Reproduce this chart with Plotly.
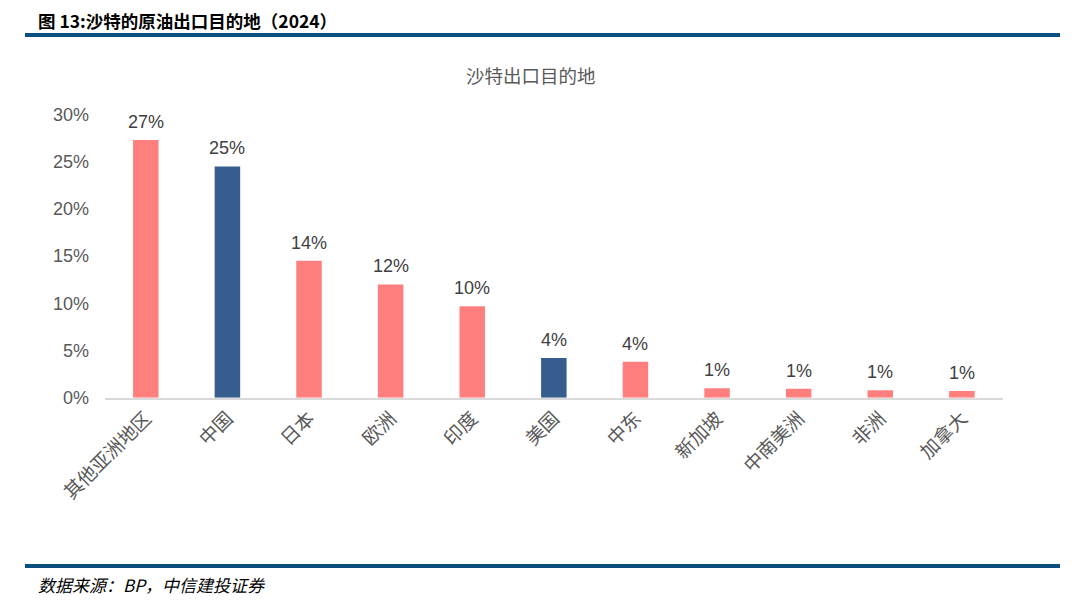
import plotly.graph_objects as go

categories = ["其他亚洲地区", "中国", "日本", "欧洲", "印度", "美国", "中东", "新加坡", "中南美洲", "非洲", "加拿大"]
values = [27.3, 24.5, 14.5, 12.0, 9.7, 4.2, 3.8, 1.0, 0.95, 0.78, 0.72]
labels = ["27%", "25%", "14%", "12%", "10%", "4%", "4%", "1%", "1%", "1%", "1%"]
highlight = ["中国", "美国"]
y_ticks = [0, 5, 10, 15, 20, 25, 30]
y_ticktext = ["0%", "5%", "10%", "15%", "20%", "25%", "30%"]

PINK = "#FF7F7F"
BLUE = "#355E8F"
colors = [BLUE if c in highlight else PINK for c in categories]

W, H = 1078, 615
OFF = 8  # page body margin offset


def px(x):
    return (x - OFF) / W


def py(y):
    return 1 - (y - OFF) / H


x0, x1 = 105, 1002.7
y_top, y_bot = 114.5, 397.7

fig = go.Figure()
fig.add_trace(go.Bar(
    x=categories, y=values, marker_color=colors, marker_line_width=0,
    hoverinfo="x+y",
))

# value labels above bars
for c, v, t in zip(categories, values, labels):
    fig.add_annotation(x=c, y=v, xref="x", yref="y", text=t, showarrow=False,
                       yanchor="bottom", xanchor="center", yshift=7, borderpad=0,
                       font=dict(family="Liberation Sans, Arial, sans-serif", size=18, color="#404040"))

fig.update_layout(
    width=W, height=H,
    margin=dict(l=0, r=0, t=0, b=0, pad=0, autoexpand=False),
    paper_bgcolor="white", plot_bgcolor="white",
    bargap=0.6875, showlegend=False,
    xaxis=dict(
        domain=[px(x0), px(x1)], showgrid=False, showline=True, automargin=False,
        linecolor="#D9D9D9", linewidth=2, ticks="", tickangle=-45,
        tickfont=dict(family="Noto Sans CJK SC, sans-serif", size=19, color="#595959"),
    ),
    yaxis=dict(
        domain=[py(y_bot), py(y_top)], range=[0, 30], showgrid=False, automargin=False,
        zeroline=False, showline=False, tickvals=y_ticks, ticktext=y_ticktext,
        ticks="", ticklabelstandoff=15,
        tickfont=dict(family="Liberation Sans, Arial, sans-serif", size=18, color="#595959"),
    ),
    font=dict(family="Noto Sans CJK SC, sans-serif"),
)

# header / footer rule lines
for yy in (35, 566):
    fig.add_shape(type="line", xref="paper", yref="paper", x0=px(25), x1=px(1060),
                  y0=py(yy), y1=py(yy), line=dict(color="#0B4F7F", width=4))

fig.add_annotation(xref="paper", yref="paper", x=px(37), y=py(20), xanchor="left", yanchor="middle",
                   text="<b>图 13:沙特的原油出口目的地（2024）</b>", showarrow=False, borderpad=0,
                   font=dict(family="Noto Sans CJK SC, sans-serif", size=17.5, color="#000000"))
fig.add_annotation(xref="paper", yref="paper", x=px(531), y=py(75), xanchor="center", yanchor="middle",
                   text="沙特出口目的地", showarrow=False,
                   font=dict(family="Noto Sans CJK SC, sans-serif", size=18.5, color="#595959"))
fig.add_annotation(xref="paper", yref="paper", x=px(36), y=py(584), xanchor="left", yanchor="middle",
                   text="<i>数据来源：BP，中信建投证券</i>", showarrow=False,
                   font=dict(family="Noto Sans CJK SC, sans-serif", size=17, color="#000000"))

fig.write_html("out.html")
